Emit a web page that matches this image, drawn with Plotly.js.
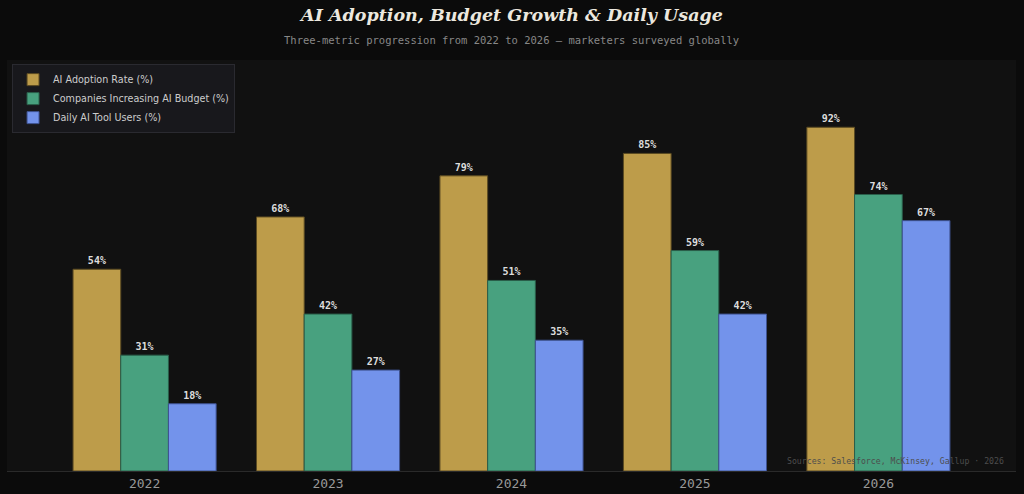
<!DOCTYPE html>
<html><head><meta charset="utf-8">
<script src="https://cdn.plot.ly/plotly-3.0.1.min.js"></script>
<style>html,body{margin:0;padding:0;background:#0b0b0b;}#chart{width:1024px;height:494px;}</style>
</head><body><div id="chart"></div>
<script>
const years = ["2022","2023","2024","2025","2026"];
const adoption = [54,68,79,85,92];
const budget = [31,42,51,59,74];
const daily = [18,27,35,42,67];
const seriesNames = ["AI Adoption Rate (%)","Companies Increasing AI Budget (%)","Daily AI Tool Users (%)"];
const colors = ["#bd9c4a","#48a17f","#7393eb"];
const lineColors = ["#5a4a22","#2a5e4a","#3e5290"];
const vals = [adoption,budget,daily];
const traces = vals.map((v,i)=>({
  type:"bar", x:years, y:v, name:seriesNames[i],
  marker:{color:colors[i], line:{color:lineColors[i], width:1}},
  text:v.map(n=>n+"%"), textposition:"outside", cliponaxis:false,
  textfont:{family:"DejaVu Sans Mono", size:10, color:"#dddddd", weight:"bold"},
  hoverinfo:"skip"
}));
const layout = {
  width:1024, height:494,
  paper_bgcolor:"#0b0b0b", plot_bgcolor:"#111111",
  margin:{l:7,r:8,t:60,b:23},
  barmode:"group", bargap:0.22, bargroupgap:0,
  title:{text:"<b><i>AI Adoption, Budget Growth & Daily Usage</i></b>", x:0.5, xanchor:"center", y:0.97, yanchor:"middle",
    font:{family:"DejaVu Serif", size:17.5, color:"#ece8df"}},
  xaxis:{type:"category", range:[-0.75,4.75], showgrid:false, zeroline:false, showline:true, linecolor:"#2a2a2a", linewidth:1,
    ticks:"", tickfont:{family:"DejaVu Sans Mono", size:13, color:"#999999"}, fixedrange:true},
  yaxis:{range:[0,110], visible:false, showgrid:false, zeroline:false, fixedrange:true},
  showlegend:true,
  legend:{x:0.005, y:0.99, xanchor:"left", yanchor:"top", bgcolor:"#18181c", bordercolor:"#2a2a30", borderwidth:1,
    font:{family:"DejaVu Sans", size:9.6, color:"#cccccc"}, tracegroupgap:0, itemwidth:30},
  annotations:[
    {text:"Three-metric progression from 2022 to 2026 — marketers surveyed globally", xref:"paper", yref:"paper", x:0.5, y:1, yshift:20, xanchor:"center", yanchor:"middle", showarrow:false,
     font:{family:"DejaVu Sans Mono", size:10.5, color:"#888888"}},
    {text:"Sources: Salesforce, McKinsey, Gallup · 2026", xref:"paper", yref:"paper", x:0.99, y:0.025, xanchor:"right", yanchor:"middle", showarrow:false,
     font:{family:"DejaVu Sans Mono", size:8.2, color:"#4d4d4d"}}
  ]
};
Plotly.newPlot("chart", traces, layout, {displayModeBar:false, staticPlot:true});
</script></body></html>
